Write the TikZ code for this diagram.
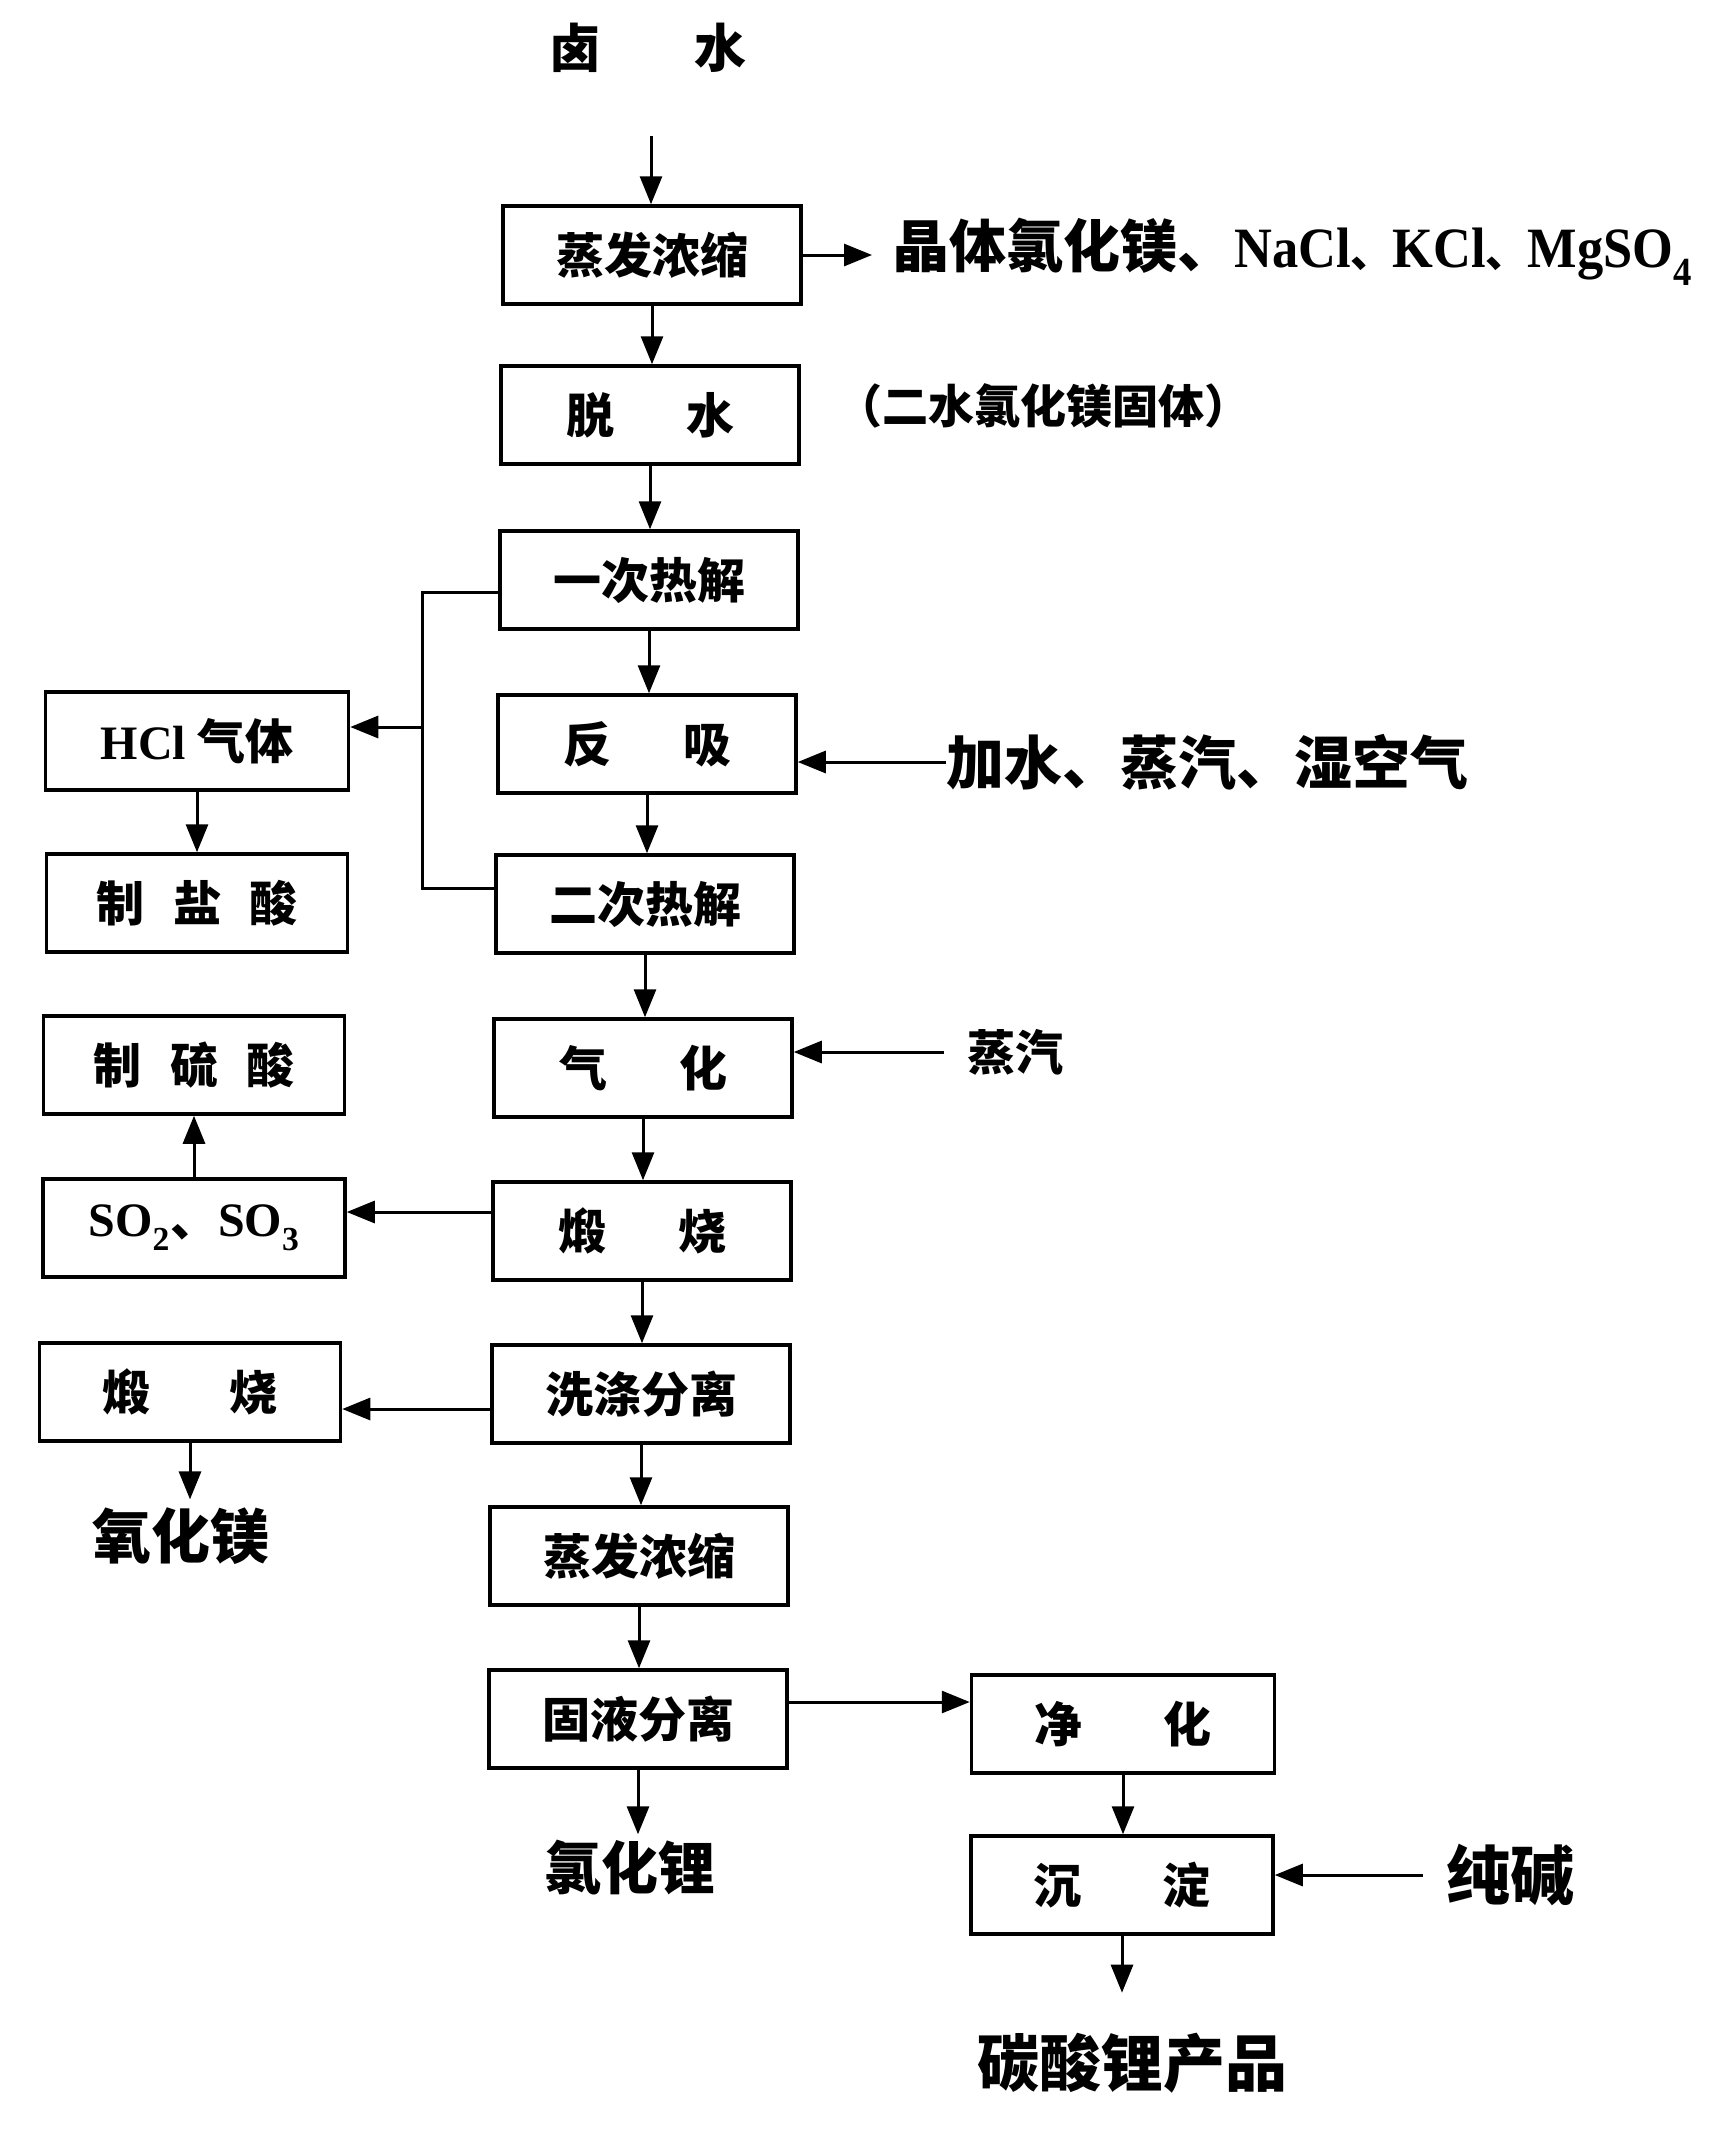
\documentclass[tikz,border=0pt]{standalone}
\usepackage{fontspec}
\setmainfont{Liberation Serif}
\newfontfamily\cjk{Noto Sans CJK SC}
\usetikzlibrary{arrows.meta}
\newcommand{\latn}[1]{{\rmfamily\bfseries #1}}
\newcommand{\latc}[1]{\scalebox{0.92}[1]{\rmfamily\bfseries #1}}
\newcommand{\dun}{{\fontsize{42}{42}\selectfont 、}}
\begin{document}
\begin{tikzpicture}[x=1pt,y=-1pt,
  box/.style={draw, line width=3.5pt, minimum width=298pt, minimum height=98pt, inner sep=0pt,
    font=\cjk\bfseries\fontsize{48}{50}\selectfont},
  lbl/.style={inner sep=0pt, font=\cjk\bfseries\fontsize{57}{60}\selectfont},
  arr/.style={-{Triangle[length=28pt,width=22pt]}, line width=3pt},
  ln/.style={line width=3pt}]
\useasboundingbox (0,0) rectangle (1724,2136);
% main column
\node[box] (b1) at (652,255) {蒸发浓缩};
\node[box] (b2) at (650,415) {脱\hspace{1.5em}水};
\node[box] (b3) at (649,580) {一次热解};
\node[box] (b4) at (647,744) {反\hspace{1.5em}吸};
\node[box] (b5) at (645,904) {二次热解};
\node[box] (b6) at (643,1068) {气\hspace{1.5em}化};
\node[box] (b7) at (642,1231) {煅\hspace{1.5em}烧};
\node[box] (b8) at (641,1394) {洗涤分离};
\node[box] (b9) at (639,1556) {蒸发浓缩};
\node[box] (b10) at (638,1719) {固液分离};
\node[box, minimum width=303pt] (jh) at (1123,1724) {净\hspace{1.7em}化};
\node[box, minimum width=302pt] (cd) at (1122,1885) {沉\hspace{1.7em}淀};
% left column
\node[box, minimum width=303pt] (hcl) at (197,741) {\latn{HCl} 气体};
\node[box, minimum width=301pt] (yan) at (197,903) {制\hspace{0.6em}盐\hspace{0.6em}酸};
\node[box, minimum width=301pt] (liu) at (194,1065) {制\hspace{0.6em}硫\hspace{0.6em}酸};
\node[box, minimum width=302pt] (so) at (194,1228) {\latn{SO\textsubscript{2}}、\latn{SO\textsubscript{3}}};
\node[box, minimum width=301pt] (dl) at (190,1392) {煅\hspace{1.65em}烧};
% labels
\node[lbl, font=\cjk\bfseries\fontsize{52}{54}\selectfont] (top) at (648,48) {卤\hspace{1.8em}水};
\node[lbl, anchor=west] (cry) at (892,252) {晶体氯化镁、\latc{NaCl}\dun\latc{KCl}\dun\latc{MgSO\textsubscript{4}}};
\node[lbl, anchor=west, font=\cjk\bfseries\fontsize{46}{48}\selectfont] (er) at (836,406) {（二水氯化镁固体）};
\node[lbl, anchor=west, font=\cjk\bfseries\fontsize{58}{60}\selectfont] (jia) at (946,762) {加水、蒸汽、湿空气};
\node[lbl, anchor=west, font=\cjk\bfseries\fontsize{48}{50}\selectfont] (zq) at (967,1052) {蒸汽};
\node[lbl, font=\cjk\bfseries\fontsize{59}{61}\selectfont] (mgo) at (181,1536) {氧化镁};
\node[lbl, font=\cjk\bfseries\fontsize{57}{60}\selectfont] (licl) at (630,1868) {氯化锂};
\node[lbl, anchor=west, font=\cjk\bfseries\fontsize{64}{66}\selectfont] (ch) at (1446,1875) {纯碱};
\node[lbl, font=\cjk\bfseries\fontsize{62}{64}\selectfont] (tan) at (1132,2063) {碳酸锂产品};
% coordinates
\coordinate (s0) at (651,136);
\coordinate (j1) at (422,592);
\coordinate (j2) at (422,888);
\coordinate (jh1) at (422,727);
% connectors main
\draw[arr] (s0) -- (s0 |- b1.north);
\draw[arr] (b1.east) -- (b1.east -| cry.west) [shorten >=20pt];
\draw[arr] (b1.south) -- (b1.south |- b2.north);
\draw[arr] (b2.south) -- (b2.south |- b3.north);
\draw[arr] (b3.south) -- (b3.south |- b4.north);
\draw[arr] (b4.south) -- (b4.south |- b5.north);
\draw[arr] (b5.south) -- (b5.south |- b6.north);
\draw[arr] (b6.south) -- (b6.south |- b7.north);
\draw[arr] (b7.south) -- (b7.south |- b8.north);
\draw[arr] (b8.south) -- (b8.south |- b9.north);
\draw[arr] (b9.south) -- (b9.south |- b10.north);
% branch from pyrolysis
\draw[ln] (b3.west |- j1) -- (j1) -- (j2) -- (b5.west |- j2);
\draw[arr] (jh1) -- (hcl.east |- jh1);
\draw[arr] (hcl.south) -- (yan.north);
% side inputs
\draw[arr] (jia.west) -- (jia.west -| b4.east);
\draw[arr, shorten <=23pt] (zq.west) -- (zq.west -| b6.east);
% left outputs
\draw[arr] (b7.west |- 0,1212) -- (so.east |- 0,1212);
\draw[arr] (so.north) -- (so.north |- liu.south);
\draw[arr] (b8.west |- 0,1409) -- (dl.east |- 0,1409);
\draw[arr, shorten >=8pt] (dl.south) -- (dl.south |- mgo.north);
% bottom
\draw[arr] (b10.east |- 0,1702) -- (jh.west |- 0,1702);
\draw[arr, shorten >=6pt] (b10.south) -- (b10.south |- licl.north);
\draw[arr] (jh.south) -- (jh.south |- cd.north);
\draw[arr, shorten <=23pt] (ch.west) -- (ch.west -| cd.east);
\draw[arr, shorten >=40pt] (cd.south) -- (cd.south |- tan.north);
\end{tikzpicture}
\end{document}
